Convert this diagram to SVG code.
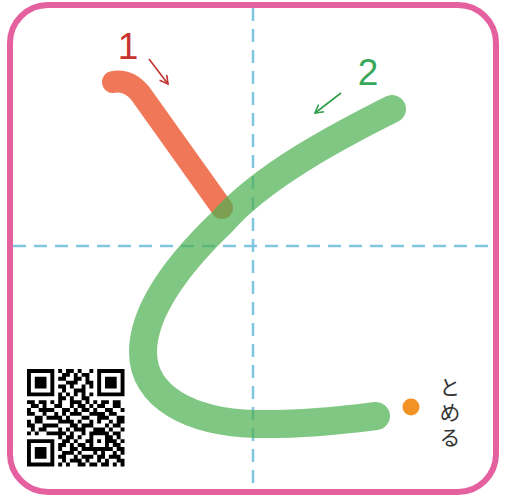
<svg xmlns="http://www.w3.org/2000/svg" width="506" height="496" viewBox="0 0 506 496">
<style>
.guide{stroke:#7fc6df;stroke-width:2.5;stroke-dasharray:13 8;fill:none}
.num{font-family:"Liberation Sans","DejaVu Sans",sans-serif;font-size:37px;text-anchor:middle}
.jp{font-family:"Noto Sans CJK JP","Noto Sans",sans-serif;font-size:21px;fill:#333;writing-mode:vertical-rl;letter-spacing:4px}
.brush{fill:none;stroke-linecap:round;stroke-linejoin:round}
</style>
<defs>
<marker id="ahRed" markerWidth="12" markerHeight="12" refX="9" refY="5" orient="auto" markerUnits="userSpaceOnUse">
<path d="M1,0.5 L9,5 L1,9.5" fill="none" stroke="#c0332f" stroke-width="1.6"/>
</marker>
<marker id="ahGreen" markerWidth="12" markerHeight="12" refX="9" refY="5" orient="auto" markerUnits="userSpaceOnUse">
<path d="M1,0.5 L9,5 L1,9.5" fill="none" stroke="#2f9e4c" stroke-width="1.6"/>
</marker>
</defs>
<rect x="0" y="0" width="506" height="496" fill="#fff"/>
<g id="frame">
<rect x="10" y="5" width="486" height="487" rx="38" ry="38" fill="#fff" stroke="#e4609f" stroke-width="6"/>
</g>
<g id="guides">
<line class="guide" x1="253" y1="8" x2="253" y2="490"/>
<line class="guide" x1="13" y1="246" x2="493" y2="246"/>
</g>
<g id="stroke1">
<path class="brush" d="M113 82 Q128 79 140 93 L222 208" stroke="#f07858" stroke-width="22"/>
</g>
<g id="stroke2">
<path class="brush" d="M392 109 C340 135 262 176 222 222 C180 262 143 310 143 352 C143 397 190 422 255 424 C300 425 345 420 376 416" stroke="#4caf50" stroke-opacity="0.7" stroke-width="28"/>
</g>
<g id="connectors">
<line x1="149" y1="59" x2="168" y2="84" stroke="#c0332f" stroke-width="1.6" marker-end="url(#ahRed)"/>
<line x1="341" y1="93" x2="315" y2="113" stroke="#2f9e4c" stroke-width="1.6" marker-end="url(#ahGreen)"/>
</g>
<g id="label1"><text class="num" x="128" y="59" fill="#c7322e">1</text></g>
<g id="label2"><text class="num" x="368" y="85" fill="#3aa85a">2</text></g>
<g id="stopdot"><circle cx="411" cy="407" r="8.5" fill="#f39224"/></g>
<g id="tomeru">
<text class="jp" x="450" y="377">とめる</text>
</g>
<g id="qr">
<path fill="#000" transform="translate(27 369) scale(3.9)" d="
M0 0h7v1h-7z M8 0h1v1h-1z M10 0h2v1h-2z M13 0h1v1h-1z M16 0h1v1h-1z M18 0h7v1h-7z
M0 1h1v1h-1z M6 1h1v1h-1z M9 1h2v1h-2z M12 1h1v1h-1z M14 1h2v1h-2z M18 1h1v1h-1z M24 1h1v1h-1z
M0 2h1v1h-1z M2 2h3v1h-3z M6 2h1v1h-1z M8 2h2v1h-2z M12 2h2v1h-2z M15 2h1v1h-1z M18 2h1v1h-1z M20 2h3v1h-3z M24 2h1v1h-1z
M0 3h1v1h-1z M2 3h3v1h-3z M6 3h1v1h-1z M10 3h3v1h-3z M15 3h2v1h-2z M18 3h1v1h-1z M20 3h3v1h-3z M24 3h1v1h-1z
M0 4h1v1h-1z M2 4h3v1h-3z M6 4h1v1h-1z M8 4h2v1h-2z M11 4h1v1h-1z M14 4h1v1h-1z M16 4h1v1h-1z M18 4h1v1h-1z M20 4h3v1h-3z M24 4h1v1h-1z
M0 5h1v1h-1z M6 5h1v1h-1z M9 5h1v1h-1z M12 5h3v1h-3z M18 5h1v1h-1z M24 5h1v1h-1z
M0 6h7v1h-7z M8 6h1v1h-1z M10 6h1v1h-1z M12 6h1v1h-1z M14 6h1v1h-1z M16 6h1v1h-1z M18 6h7v1h-7z
M8 7h2v1h-2z M11 7h1v1h-1z M14 7h2v1h-2z
M0 8h2v1h-2z M3 8h2v1h-2z M6 8h1v1h-1z M8 8h1v1h-1z M11 8h3v1h-3z M15 8h1v1h-1z M17 8h1v1h-1z M19 8h2v1h-2z M22 8h2v1h-2z
M1 9h2v1h-2z M4 9h1v1h-1z M7 9h2v1h-2z M11 9h1v1h-1z M13 9h2v1h-2z M16 9h1v1h-1z M18 9h2v1h-2z M22 9h2v1h-2z
M0 10h1v1h-1z M3 10h4v1h-4z M9 10h2v1h-2z M12 10h1v1h-1z M14 10h2v1h-2z M17 10h1v1h-1z M20 10h2v1h-2z M24 10h1v1h-1z
M0 11h2v1h-2z M4 11h1v1h-1z M7 11h1v1h-1z M9 11h1v1h-1z M11 11h3v1h-3z M16 11h4v1h-4z M21 11h2v1h-2z
M2 12h2v1h-2z M5 12h4v1h-4z M10 12h1v1h-1z M14 12h2v1h-2z M18 12h3v1h-3z M23 12h2v1h-2z
M0 13h1v1h-1z M2 13h2v1h-2z M8 13h4v1h-4z M13 13h1v1h-1z M16 13h1v1h-1z M18 13h1v1h-1z M21 13h1v1h-1z M23 13h2v1h-2z
M0 14h2v1h-2z M4 14h4v1h-4z M11 14h2v1h-2z M14 14h3v1h-3z M20 14h1v1h-1z M22 14h2v1h-2z
M1 15h1v1h-1z M3 15h2v1h-2z M8 15h1v1h-1z M10 15h1v1h-1z M12 15h3v1h-3z M17 15h3v1h-3z M21 15h1v1h-1z M24 15h1v1h-1z
M0 16h1v1h-1z M2 16h1v1h-1z M5 16h5v1h-5z M11 16h1v1h-1z M14 16h1v1h-1z M16 16h5v1h-5z M22 16h2v1h-2z
M8 17h1v1h-1z M10 17h2v1h-2z M13 17h1v1h-1z M16 17h1v1h-1z M20 17h2v1h-2z M23 17h1v1h-1z
M0 18h7v1h-7z M9 18h2v1h-2z M12 18h1v1h-1z M15 18h2v1h-2z M18 18h1v1h-1z M20 18h3v1h-3z M24 18h1v1h-1z
M0 19h1v1h-1z M6 19h1v1h-1z M8 19h2v1h-2z M11 19h1v1h-1z M13 19h2v1h-2z M16 19h1v1h-1z M20 19h1v1h-1z M22 19h2v1h-2z
M0 20h1v1h-1z M2 20h3v1h-3z M6 20h1v1h-1z M8 20h1v1h-1z M11 20h2v1h-2z M14 20h8v1h-8z M23 20h2v1h-2z
M0 21h1v1h-1z M2 21h3v1h-3z M6 21h1v1h-1z M9 21h3v1h-3z M13 21h1v1h-1z M17 21h1v1h-1z M19 21h1v1h-1z M22 21h1v1h-1z M24 21h1v1h-1z
M0 22h1v1h-1z M2 22h3v1h-3z M6 22h1v1h-1z M8 22h2v1h-2z M12 22h1v1h-1z M14 22h3v1h-3z M18 22h2v1h-2z M21 22h3v1h-3z
M0 23h1v1h-1z M6 23h1v1h-1z M9 23h1v1h-1z M11 23h3v1h-3z M15 23h1v1h-1z M18 23h1v1h-1z M20 23h1v1h-1z M23 23h2v1h-2z
M0 24h7v1h-7z M8 24h1v1h-1z M10 24h1v1h-1z M13 24h2v1h-2z M16 24h2v1h-2z M19 24h2v1h-2z M22 24h1v1h-1z M24 24h1v1h-1z"/>
</g>
</svg>
